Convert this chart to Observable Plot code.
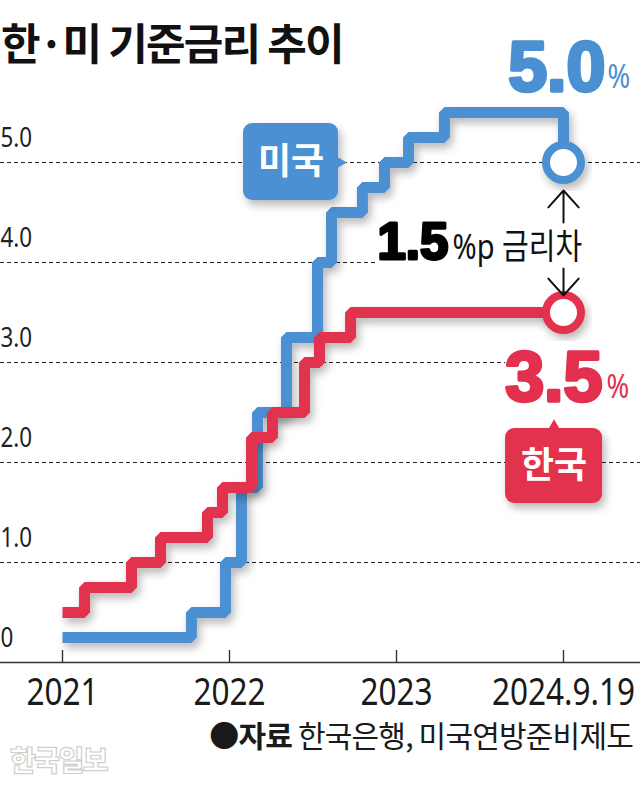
<!DOCTYPE html>
<html>
<head>
<meta charset="utf-8">
<script src="https://cdn.jsdelivr.net/npm/d3@7"></script>
<script src="https://cdn.jsdelivr.net/npm/@observablehq/plot@0.6"></script>
<style>
  html, body { margin: 0; padding: 0; background: #fff; }
  #wrap { position: relative; width: 640px; height: 789px; overflow: hidden; }
  #title { position: absolute; left: 1px; top: 20px; font-family: "Noto Sans CJK KR", sans-serif; font-weight: 700; font-size: 43px; line-height: 1; letter-spacing: -1.8px; color: #111; white-space: nowrap; }
  #caption { position: absolute; right: 7px; top: 716px; font-family: "Noto Sans CJK KR", sans-serif; font-size: 30px; line-height: 1.2; color: #1a1a1a; letter-spacing: -0.8px; white-space: nowrap; }
  #caption b { font-weight: 700; }
  #brand { position: absolute; left: 10px; top: 743px; font-family: "Noto Sans CJK KR", sans-serif; font-weight: 900; font-size: 28px; line-height: 1.2; color: #fff; -webkit-text-stroke: 1.2px #cfcfcf; letter-spacing: -1.5px; }
  #chart { position: absolute; left: 0; top: 0; }
</style>
</head>
<body>
<div id="wrap">
  <div id="chart"></div>
  <div id="title">한·미 기준금리 추이</div>
  <div id="caption"><b>●자료</b> 한국은행, 미국연방준비제도</div>
  <div id="brand">한국일보</div>
</div>
<script>
// Position of each rate change on the (schematic) time axis, in years after 2021 as drawn
const usDates = [0, 0.772, 0.976, 1.072, 1.168, 1.341, 1.527, 1.611, 1.796, 1.928, 2.072, 2.287, 3.0];
const usRates = [0.25, 0.5, 1.0, 1.75, 2.5, 3.25, 4.0, 4.5, 4.75, 5.0, 5.25, 5.5, 5.0];
const krDates = [0, 0.132, 0.413, 0.587, 0.868, 0.958, 1.132, 1.257, 1.449, 1.539, 1.725, 3.0];
const krRates = [0.5, 0.75, 1.0, 1.25, 1.5, 1.75, 2.25, 2.5, 3.0, 3.25, 3.5, 3.5];
const xTicks = [0, 1, 2, 3];
const xTickLabels = ["2021", "2022", "2023", "2024.9.19"];
const yTicks = [0, 1, 2, 3, 4, 5];
const yTickLabels = ["0", "1.0", "2.0", "3.0", "4.0", "5.0"];
const seriesNames = ["미국", "한국"];
const gapLabel = "금리차";

const BLUE = "#4b90d2";
const RED = "#e2304e";
const SANS = '"Noto Sans", "Noto Sans CJK KR", sans-serif';
const HEAVY = '"Liberation Sans", "DejaVu Sans", sans-serif';
const KR = '"Noto Sans CJK KR", sans-serif';

const us = usDates.map((d, i) => ({x: d, y: usRates[i]}));
const kr = krDates.map((d, i) => ({x: d, y: krRates[i]}));
const usEnd = us[us.length - 1];
const krEnd = kr[kr.length - 1];
const gap = usEnd.y - krEnd.y;
const mid = {x: usEnd.x, y: (usEnd.y + krEnd.y) / 2};

const X_MIN = -62 / 167, X_MAX = 578 / 167;
// where some gridlines stop (behind labels)
const gridStop = {3: 2.653, 4: 1.886};
const grid = yTicks.filter(v => v > 0).map(v => ({y: v, x2: gridStop[v] ?? X_MAX}));

const usBox = {x1: 1.084, x2: 1.653, y1: 4.62, y2: 5.39};
const krBox = {x1: 2.653, x2: 3.234, y1: 1.59, y2: 2.34};

const plot = Plot.plot({
  width: 640,
  height: 715,
  marginLeft: 0, marginRight: 0, marginTop: 62, marginBottom: 53,
  x: {domain: [X_MIN, X_MAX], axis: null},
  y: {domain: [0, 6], axis: null},
  style: {background: "transparent", overflow: "visible"},
  marks: [
    Plot.ruleY(grid, {y: "y", x1: X_MIN, x2: "x2", stroke: "#222", strokeWidth: 1.2, strokeDasharray: "4,3"}),
    Plot.ruleY([0], {stroke: "#333", strokeWidth: 1.4}),
    Plot.ruleX(xTicks, {x: d => d, y1: 0, y2: 0.12, stroke: "#333", strokeWidth: 1.4}),
    Plot.text(xTicks, {x: d => d, y: 0, dy: 30, text: (d, i) => xTickLabels[i], fontFamily: SANS, fontSize: 38, fill: "#1a1a1a", ariaDescription: "narrow"}),
    Plot.text(yTicks, {y: d => d, frameAnchor: "left", textAnchor: "start", dx: 0, dy: -24, text: (d, i) => yTickLabels[i], fontFamily: SANS, fontSize: 27, fill: "#222", ariaDescription: "narrow"}),
    Plot.line(us, {x: "x", y: "y", curve: "step-after", stroke: BLUE, strokeWidth: 11, strokeLinejoin: "miter", strokeLinecap: "butt", ariaDescription: "shadow"}),
    Plot.line(kr, {x: "x", y: "y", curve: "step-after", stroke: RED, strokeWidth: 11, strokeLinejoin: "miter", strokeLinecap: "butt", ariaDescription: "shadow"}),
    Plot.dot([usEnd], {x: "x", y: "y", r: 17.5, stroke: BLUE, strokeWidth: 8, fill: "white", ariaDescription: "shadow"}),
    Plot.dot([krEnd], {x: "x", y: "y", r: 17.5, stroke: RED, strokeWidth: 8, fill: "white", ariaDescription: "shadow"}),
    // series label boxes
    Plot.rect([usBox], {x1: "x1", x2: "x2", y1: "y1", y2: "y2", fill: BLUE, rx: 9, ariaDescription: "shadow"}),
    Plot.dot([usBox], {x: "x2", y: 5.0, symbol: "triangle2", rotate: 90, r: 6, fill: BLUE, dx: 1}),
    Plot.text([usBox], {x: d => (d.x1 + d.x2) / 2, y: d => (d.y1 + d.y2) / 2, text: () => seriesNames[0], fill: "white", fontFamily: KR, fontWeight: 700, fontSize: 36, letterSpacing: -1}),
    Plot.rect([krBox], {x1: "x1", x2: "x2", y1: "y1", y2: "y2", fill: RED, rx: 9, ariaDescription: "shadow"}),
    Plot.dot([krBox], {x: d => (d.x1 + d.x2) / 2, y: "y2", symbol: "triangle2", r: 6, fill: RED, dy: -2}),
    Plot.text([krBox], {x: d => (d.x1 + d.x2) / 2, y: d => (d.y1 + d.y2) / 2, text: () => seriesNames[1], fill: "white", fontFamily: KR, fontWeight: 700, fontSize: 36, letterSpacing: -1}),
    // end value labels
    Plot.text([usEnd], {x: "x", y: "y", text: d => d.y.toFixed(1), textAnchor: "end", lineAnchor: "bottom", dx: 42, dy: -72, fill: BLUE, stroke: BLUE, strokeWidth: 3.5, fontFamily: HEAVY, fontWeight: 900, fontSize: 70, letterSpacing: -4}),
    Plot.text([usEnd], {x: "x", y: "y", text: () => "%", textAnchor: "start", lineAnchor: "bottom", dx: 44, dy: -75, fill: BLUE, fontFamily: SANS, fontSize: 33, ariaDescription: "narrow"}),
    Plot.text([krEnd], {x: "x", y: "y", text: d => d.y.toFixed(1), textAnchor: "end", lineAnchor: "bottom", dx: 39, dy: 88, fill: RED, stroke: RED, strokeWidth: 3.5, fontFamily: HEAVY, fontWeight: 900, fontSize: 70, letterSpacing: -4}),
    Plot.text([krEnd], {x: "x", y: "y", text: () => "%", textAnchor: "start", lineAnchor: "bottom", dx: 43, dy: 85, fill: RED, fontFamily: SANS, fontSize: 33, ariaDescription: "narrow"}),
    // gap annotation
    Plot.text([mid], {x: "x", y: "y", text: () => gap.toFixed(1), textAnchor: "start", lineAnchor: "bottom", dx: -186, dy: 21, fill: "#000", stroke: "#000", strokeWidth: 3, fontFamily: HEAVY, fontWeight: 900, fontSize: 51, letterSpacing: -4}),
    Plot.text([mid], {x: "x", y: "y", text: () => "%p " + gapLabel, textAnchor: "start", lineAnchor: "bottom", dx: -111, dy: 21, fill: "#111", fontFamily: SANS, fontSize: 35, ariaDescription: "narrow"}),
    Plot.arrow([mid], {x1: "x", y1: "y", x2: "x", y2: usEnd.y, insetStart: 15, insetEnd: 28, stroke: "#111", strokeWidth: 2, headLength: 17, headAngle: 84}),
    Plot.arrow([mid], {x1: "x", y1: "y", x2: "x", y2: krEnd.y, insetStart: 31, insetEnd: 17, stroke: "#111", strokeWidth: 2, headLength: 17, headAngle: 84})
  ]
});

document.getElementById("chart").appendChild(plot);
const svg = d3.select(plot);
svg.insert("defs", ":first-child").html(
  '<filter id="sh" x="-30%" y="-30%" width="160%" height="160%">' +
  '<feDropShadow dx="3" dy="5" stdDeviation="4" flood-color="#000" flood-opacity="0.28"/></filter>'
);
svg.selectAll('g[aria-description="shadow"]').attr("filter", "url(#sh)");
// condensed look for the narrow grotesque labels
svg.selectAll('g[aria-description="narrow"] text').each(function() {
  const t = d3.select(this);
  const x = +t.attr("x") || 0, y = +t.attr("y") || 0;
  const tr = t.attr("transform") || "";
  t.attr("transform", `${tr} translate(${x},${y}) scale(0.83,1) translate(${-x},${-y})`);
});
</script>
</body>
</html>
